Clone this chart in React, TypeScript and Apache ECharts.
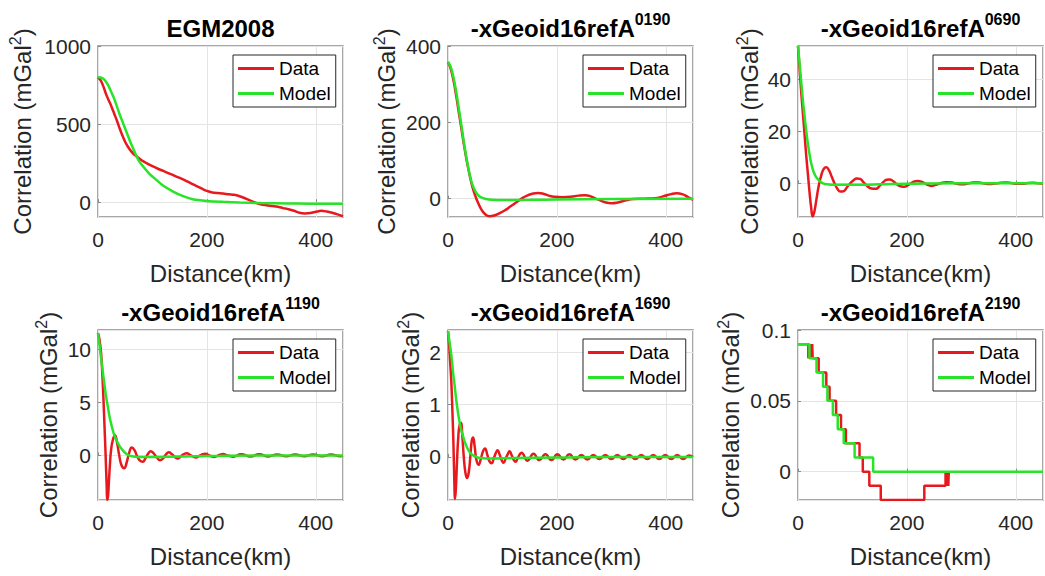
import React, { useEffect, useRef } from 'react';
import * as echarts from 'echarts';

const FONT = '"Liberation Sans", Arial, Helvetica, sans-serif';
const RED = '#e8191e';
const GREEN = '#28e428';
const TEXT = '#262626';

// Panel titles: [main text, superscript]
const titleMain = ['EGM2008', '-xGeoid16refA', '-xGeoid16refA', '-xGeoid16refA', '-xGeoid16refA', '-xGeoid16refA'];
const titleSup = ['', '0190', '0690', '1190', '1690', '2190'];

const seriesNames = ['Data', 'Model'];
const xLabel = 'Distance(km)';
const yLabelMain = 'Correlation (mGal';
const yLabelSup = '2';

// y extents per panel
const yMin = [-95, -48, -13, -4.2, -0.82, -0.02];
const yMax = [1000, 400, 53, 11.8, 2.42, 0.1];
const ySplit = [2, 2, 3, 3, 3, 2];
const yMaxIsTick = [true, true, false, false, false, true];
const xMin = 0;
const xMax = 450;
const xStep = 200;

// EGM2008
const egmData = [
  [0, 800], [5, 780], [10, 740], [15, 690], [20, 650], [25, 610], [30, 565], [35, 520], [40, 470], [45, 425],
  [50, 385], [55, 355], [60, 330], [65, 310], [70, 295], [80, 268], [90, 248], [100, 230], [110, 214], [120, 200],
  [130, 185], [140, 170], [150, 155], [160, 140], [170, 122], [180, 105], [190, 88], [200, 72], [210, 62], [220, 58],
  [230, 55], [240, 50], [250, 47], [260, 38], [270, 25], [280, 10], [290, -5], [300, -15], [310, -20], [320, -25],
  [330, -30], [340, -38], [350, -45], [360, -55], [370, -68], [380, -72], [390, -70], [400, -62], [410, -55],
  [420, -60], [430, -68], [440, -78], [450, -90],
];
const egmModel = [
  [0, 800], [5, 798], [10, 790], [15, 770], [20, 740], [25, 700], [30, 660], [35, 610], [40, 560], [45, 515],
  [50, 470], [55, 425], [60, 380], [65, 340], [70, 300], [76, 260], [85, 220], [95, 180], [107, 143], [120, 105],
  [138, 68], [155, 40], [174, 19], [200, 8], [230, 2], [260, -2], [300, -6], [350, -8], [400, -10], [450, -10],
];

// -xGeoid16refA 0190
const a0190Data = [
  [0, 358], [5, 340], [10, 310], [15, 270], [20, 225], [25, 180], [30, 135], [35, 95], [40, 60], [45, 30],
  [50, 8], [55, -10], [62, -30], [70, -43], [76, -46], [85, -44], [95, -38], [105, -30], [115, -20], [125, -10],
  [135, 0], [145, 8], [155, 13], [165, 15], [175, 13], [185, 8], [195, 5], [210, 4], [225, 5], [240, 8],
  [252, 9], [262, 6], [275, -2], [290, -10], [300, -12], [312, -10], [325, -5], [340, -1], [360, 0], [380, 1],
  [395, 6], [410, 12], [420, 14], [430, 12], [440, 5], [450, -3],
];
const a0190Model = [
  [0, 358], [5, 345], [10, 318], [15, 280], [20, 235], [25, 188], [30, 140], [35, 98], [40, 62], [45, 36],
  [50, 20], [55, 10], [60, 4], [70, -1], [80, -3], [100, -3.5], [150, -3], [200, -2], [300, -1], [450, -0.5],
];

// -xGeoid16refA 0690
const a0690Data = [
  [0, 53], [3, 44], [6, 35], [9, 27], [12, 19], [15, 11], [18, 4], [21, -3], [24, -9], [27, -12.8],
  [30, -11], [34, -6], [38, -1], [42, 2.5], [47, 5.5], [52, 6.2], [57, 5], [62, 2.5], [67, 0], [72, -2],
  [78, -3.2], [84, -3], [90, -1.5], [96, 0], [102, 1.2], [108, 1.9], [114, 1.7], [120, 0.5], [127, -1],
  [135, -2], [143, -2.1], [150, -1], [157, 0.5], [163, 1.4], [168, 1.5], [175, 0.8], [182, -0.4], [190, -1.2],
  [196, -1.3], [203, -0.6], [210, 0.4], [220, 0.9], [228, 0.5], [237, -0.5], [245, -1.0], [253, -0.6],
  [262, 0], [272, 0.4], [282, 0.3], [292, -0.2], [302, -0.4], [312, -0.1], [322, 0.3], [332, 0.3],
  [342, -0.1], [352, -0.3], [362, -0.1], [372, 0.2], [382, 0.3], [392, 0.1], [402, -0.2], [412, -0.2],
  [422, 0.1], [432, 0.2], [442, 0], [450, -0.1],
];
const a0690Model = [
  [0, 53], [3, 46], [6, 39], [9, 32], [12, 26], [15, 20.5], [18, 15.5], [21, 11.5], [24, 8], [27, 5.5],
  [30, 3.8], [34, 2.2], [40, 0.8], [46, 0], [55, -0.4], [70, -0.6], [100, -0.6], [150, -0.4], [200, -0.2],
  [300, 0], [450, 0],
];

// -xGeoid16refA 1190
const a1190Data = [
  [0, 11.5], [3, 10.8], [6, 9.4], [8, 7.6], [10, 5.3], [12, 2.7], [14, 0], [16, -3], [17, -4.2], [18.5, -3.8],
  [20, -2.5], [22, -0.8], [24, 0.5], [27, 1.4], [31, 1.9], [35, 1.2], [39, 0], [43, -0.9], [48, -1.2],
  [53, -0.6], [57, 0.2], [62, 0.75], [67, 0.5], [72, -0.1], [77, -0.5], [82, -0.6], [87, -0.3], [92, 0.15],
  [97, 0.4], [102, 0.2], [108, -0.2], [114, -0.45], [120, -0.25], [125, 0.1], [130, 0.3], [136, 0.1],
  [141, -0.15], [146, -0.3], [152, -0.1], [157, 0.1], [163, 0.2], [169, 0.05], [174, -0.1], [180, -0.2],
  [186, -0.05], [191, 0.08], [197, 0.15], [203, 0.03], [208, -0.08], [213, -0.15], [219, -0.05], [224, 0.06],
  [230, 0.12], [236, 0.02], [242, -0.06], [248, -0.12], [263, 0.1], [280, -0.1], [296, 0.1], [313, -0.1],
  [329, 0.09], [346, -0.09], [362, 0.09], [379, -0.09], [395, 0.08], [412, -0.08], [428, 0.08], [445, -0.08],
  [450, -0.05],
];
const a1190Model = [
  [0, 11.5], [3, 10.3], [6, 9], [9, 7.8], [12, 6.6], [15, 5.5], [18, 4.6], [21, 3.7], [24, 3], [27, 2.4],
  [30, 1.9], [34, 1.4], [40, 0.85], [46, 0.45], [52, 0.15], [60, -0.05], [75, -0.15], [100, -0.15],
  [150, -0.1], [200, -0.05], [300, 0], [450, 0],
];

// -xGeoid16refA 1690
const a1690Data = [
  [0, 2.4], [2, 2.15], [4, 1.8], [6, 1.45], [8, 0.9], [10, 0.25], [11.5, -0.4], [13, -0.8], [14.5, -0.6],
  [16.5, -0.1], [19, 0.4], [21.5, 0.62], [24, 0.65], [26, 0.45], [29, 0], [32, -0.3], [35, -0.4], [38, -0.3],
  [41, 0], [43.5, 0.3], [46, 0.37], [49, 0.2], [52, -0.05], [56, -0.15], [60, -0.05], [64, 0.1], [68, 0.16],
  [72, 0.05], [76, -0.08], [80, -0.12], [84, -0.03], [88, 0.08], [91, 0.13], [95, 0.04], [99, -0.07],
  [102, -0.11], [106, -0.03], [110, 0.06], [113, 0.11], [117, 0.03], [121, -0.06], [124, -0.09], [128, -0.02],
  [132, 0.05], [135, 0.08], [146, -0.07], [157, 0.06], [168, -0.06], [179, 0.05], [190, -0.06], [201, 0.05],
  [212, -0.05], [223, 0.05], [234, -0.05], [245, 0.04], [256, -0.05], [267, 0.04], [278, -0.04], [289, 0.04],
  [300, -0.04], [311, 0.04], [322, -0.04], [333, 0.04], [344, -0.04], [355, 0.04], [366, -0.04], [377, 0.04],
  [388, -0.04], [399, 0.04], [410, -0.04], [421, 0.04], [432, -0.04], [443, 0.03], [450, 0],
];
const a1690Model = [
  [0, 2.4], [2, 2.25], [4, 2.1], [6, 1.95], [8, 1.75], [10, 1.55], [12, 1.38], [15, 1.1], [18, 0.87],
  [21, 0.68], [24, 0.53], [27, 0.42], [31, 0.28], [35, 0.18], [40, 0.09], [45, 0.04], [50, 0.01], [60, -0.02],
  [80, -0.03], [120, -0.02], [200, -0.01], [300, 0], [450, 0],
];

// -xGeoid16refA 2190 (quantised steps)
const a2190Data = [
  [0, 0.09], [19, 0.08], [20, 0.09], [21, 0.08], [22, 0.09], [23, 0.08], [24, 0.09], [25, 0.08], [26, 0.09],
  [27, 0.08], [38, 0.07], [52, 0.06], [58, 0.05], [70, 0.04], [79, 0.03], [88, 0.02], [113, 0.01], [119, 0],
  [131, -0.01], [152, -0.02], [232, -0.01], [271, 0], [272, -0.01], [273, 0], [274, -0.01], [275, 0],
  [276, -0.01], [277, 0],
];
const a2190Model = [
  [0, 0.09], [21, 0.08], [34, 0.07], [46, 0.06], [54, 0.05], [64, 0.04], [73, 0.03], [84, 0.02],
  [104, 0.01], [138, 0], [450, 0],
];

const dataSets = [egmData, a0190Data, a0690Data, a1190Data, a1690Data, a2190Data];
const modelSets = [egmModel, a0190Model, a0690Model, a1190Model, a1690Model, a2190Model];

// layout
const colLeft = [98, 448, 798];
const rowTop = [46, 330];
const rowHeight = [171, 170];
const plotWidth = 245;
const yNameGap = [61, 47, 34, 35, 23, 53];

export default function App() {
  const ref = useRef<HTMLDivElement>(null);

  useEffect(() => {
    if (!ref.current) return;
    const chart = echarts.init(ref.current, undefined, { renderer: 'svg' });

    const grids: any[] = [];
    const xAxes: any[] = [];
    const yAxes: any[] = [];
    const series: any[] = [];
    const legends: any[] = [];
    const graphics: any[] = [];

    for (let i = 0; i < 6; i++) {
      const col = i % 3;
      const row = Math.floor(i / 3);
      const left = colLeft[col];
      const top = rowTop[row];
      const height = rowHeight[row];

      grids.push({
        left, top, width: plotWidth, height,
        show: true, borderColor: '#8a8a8a', borderWidth: 1.5, backgroundColor: '#fff',
      });

      xAxes.push({
        type: 'value', gridIndex: i, min: xMin, max: xMax, interval: xStep,
        name: xLabel, nameLocation: 'middle', nameGap: 44,
        nameTextStyle: { fontFamily: FONT, fontSize: 24, color: TEXT },
        axisLine: { show: false },
        axisTick: { show: true, inside: true, length: 3, lineStyle: { color: '#8a8a8a' } },
        axisLabel: { margin: 12, fontFamily: FONT, fontSize: 21, color: TEXT, showMaxLabel: false },
        splitLine: { show: true, lineStyle: { color: '#e4e4e4', width: 1 } },
      });

      yAxes.push({
        type: 'value', gridIndex: i, min: yMin[i], max: yMax[i], splitNumber: ySplit[i],
        name: `{a|${yLabelMain}}{s|${yLabelSup}}{a|)}`,
        nameLocation: 'middle', nameGap: yNameGap[i],
        nameTextStyle: {
          fontFamily: FONT, fontSize: 24, color: TEXT,
          rich: {
            a: { fontFamily: FONT, fontSize: 24, color: TEXT, lineHeight: 30 },
            s: { fontFamily: FONT, fontSize: 16, color: TEXT, lineHeight: 16, verticalAlign: 'top' },
          },
        },
        axisLine: { show: false },
        axisTick: { show: true, inside: true, length: 3, lineStyle: { color: '#8a8a8a' } },
        axisLabel: {
          margin: 7, fontFamily: FONT, fontSize: 21, color: TEXT,
          showMinLabel: false,
          showMaxLabel: yMaxIsTick[i],
          formatter: (v: number) => String(Math.round(v * 1e6) / 1e6),
        },
        splitLine: { show: true, lineStyle: { color: '#e4e4e4', width: 1 } },
      });

      const step = i === 5 ? 'end' : false;
      const smooth = i === 5 ? false : i === 0 ? 0.3 : 0.5;

      series.push({
        type: 'line', name: seriesNames[0], xAxisIndex: i, yAxisIndex: i,
        data: dataSets[i], symbol: 'none', step, smooth,
        lineStyle: { color: RED, width: 2.5 }, itemStyle: { color: RED }, z: 2,
      });
      series.push({
        type: 'line', name: seriesNames[1], xAxisIndex: i, yAxisIndex: i,
        data: modelSets[i], symbol: 'none', step, smooth,
        lineStyle: { color: GREEN, width: 2.5 }, itemStyle: { color: GREEN }, z: 3,
      });

      legends.push({
        left: left + plotWidth - 110, top: top + 9,
        orient: 'vertical', data: seriesNames,
        icon: 'rect', itemWidth: 36, itemHeight: 3, itemGap: 6,
        padding: [4, 5, 4, 5],
        borderColor: '#262626', borderWidth: 1, backgroundColor: '#fff',
        textStyle: { fontFamily: FONT, fontSize: 19, color: '#000', lineHeight: 19 },
        selectedMode: false,
      });

      const text = titleSup[i] ? `{m|${titleMain[i]}}{s|${titleSup[i]}}` : `{m|${titleMain[i]}}`;
      graphics.push({
        type: 'text',
        x: left + plotWidth / 2,
        y: top - 17.5,
        style: {
          text,
          align: 'center',
          verticalAlign: 'middle',
          fill: '#000',
          rich: {
            m: { fontFamily: FONT, fontSize: 24, fontWeight: 'bold', lineHeight: 34, fill: '#000' },
            s: { fontFamily: FONT, fontSize: 16, fontWeight: 'bold', lineHeight: 16, verticalAlign: 'top', fill: '#000' },
          },
        },
      });
    }

    chart.setOption({
      animation: false,
      backgroundColor: '#fff',
      grid: grids,
      xAxis: xAxes,
      yAxis: yAxes,
      legend: legends,
      series,
      graphic: graphics,
    });

    return () => chart.dispose();
  }, []);

  return (
    <div
      ref={ref}
      style={{ position: 'fixed', left: 0, top: 0, width: 1045, height: 576, background: '#fff' }}
    />
  );
}
